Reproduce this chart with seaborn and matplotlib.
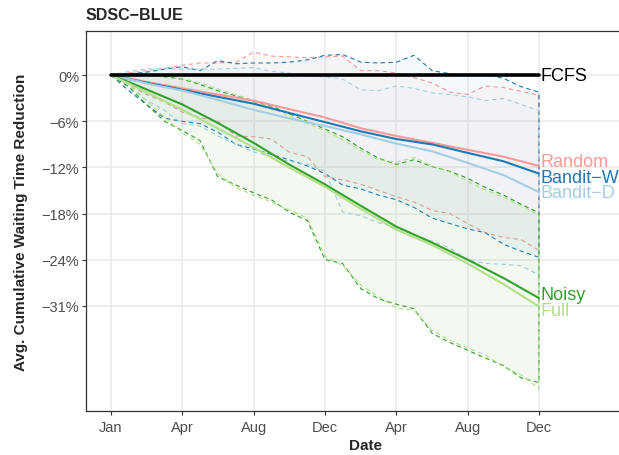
import matplotlib

matplotlib.use("Agg")
import matplotlib.pyplot as plt
import numpy as np
import pandas as pd
import seaborn as sns

# x in days since the first Jan, ticks every 117 days
main_days = [0, 30, 60, 117, 175, 234, 292, 351, 410, 468, 527, 585, 644, 702]
random_avg = [0, -0.4, -0.9, -1.7, -2.5, -3.3, -4.4, -5.5, -6.9, -7.9, -8.8, -9.7, -10.6, -11.8]
bandit_w_avg = [0, -0.5, -1.0, -1.9, -2.8, -3.7, -4.9, -6.1, -7.3, -8.3, -9.0, -10.1, -11.2, -12.8]
bandit_d_avg = [0, -0.5, -1.1, -2.0, -3.2, -4.5, -5.6, -6.6, -7.7, -8.9, -9.9, -11.4, -13.0, -15.2]
noisy_avg = [0, -0.9, -1.9, -3.8, -6.2, -8.8, -11.6, -14.2, -17.0, -19.7, -21.8, -24.0, -26.4, -29.0]
full_avg = [0, -1.1, -2.3, -4.5, -6.9, -9.4, -12.0, -14.5, -17.4, -20.1, -22.1, -24.5, -27.2, -30.1]

band_days = [0, 29, 58, 88, 117, 146, 175, 205, 234, 263, 292, 322, 351,
             380, 410, 439, 468, 497, 527, 556, 585, 614, 644, 673, 702]
random_hi = [0, 0.3, 0.6, 0.9, 1.3, 1.6, 1.6, 1.7, 3.0, 2.5, 2.4, 2.3, 2.4,
             2.5, 0.6, 0.6, 0.3, -0.3, -1.0, -2.2, -2.5, -1.4, -1.6, -2.1, -2.6]
random_lo = [0, -1.2, -2.5, -3.5, -4.8, -5.5, -6.0, -7.9, -8.0, -8.3, -10.0, -10.6, -13.2,
             -13.6, -14.2, -15.0, -15.8, -16.5, -17.6, -18.0, -19.3, -20.5, -21.1, -21.4, -22.8]
bandit_w_hi = [0, 0.2, 0.4, 0.8, 1.1, 0.6, 1.9, 1.5, 1.6, 1.6, 1.7, 2.0, 2.6,
               2.7, 1.7, 1.6, 1.7, 2.6, 0.6, 0.2, 0.0, 0.1, -0.4, -1.5, -2.2]
bandit_w_lo = [0, -2.0, -3.8, -5.6, -6.0, -6.3, -7.4, -9.0, -9.6, -10.3, -11.0, -11.8, -12.8,
               -14.3, -14.8, -15.6, -16.2, -17.2, -18.6, -19.3, -20.0, -20.5, -22.0, -22.9, -23.7]
bandit_d_hi = [0, 0.5, 0.8, 0.9, 0.8, 0.8, 0.8, 0.9, 1.0, 0.5, 0.3, -0.1, -0.2,
               -0.5, -1.9, -2.0, -1.4, -1.7, -2.3, -2.5, -2.8, -3.3, -3.0, -3.8, -4.6]
bandit_d_lo = [0, -1.5, -3.2, -4.6, -6.3, -6.6, -7.9, -9.0, -10.0, -10.6, -11.2, -11.6, -12.5,
               -17.8, -18.3, -19.2, -19.8, -20.8, -21.6, -22.5, -24.0, -24.5, -24.6, -24.8, -26.0]
noisy_hi = [0, 0.1, 0.1, -0.2, -0.5, -1.2, -2.0, -2.7, -3.4, -4.0, -5.0, -6.0, -7.0,
            -8.0, -9.5, -10.8, -11.6, -11.0, -11.9, -12.5, -13.4, -14.6, -15.6, -16.8, -17.9]
noisy_lo = [0, -1.5, -3.8, -6.0, -7.2, -8.5, -13.2, -14.3, -15.3, -16.2, -17.8, -18.9, -24.0,
            -24.5, -27.8, -29.1, -29.8, -30.4, -33.6, -34.8, -35.8, -36.8, -37.8, -39.4, -40.0]
full_hi = [0, 0.2, 0.2, 0.0, -0.4, -1.0, -1.8, -2.5, -3.3, -4.2, -5.3, -6.3, -7.2,
           -8.4, -9.8, -11.0, -11.3, -10.7, -11.8, -12.6, -13.8, -14.9, -15.9, -17.0, -18.2]
full_lo = [0, -1.2, -3.3, -5.5, -7.5, -9.0, -12.8, -14.6, -15.6, -16.5, -17.5, -18.6, -23.5,
           -24.8, -27.3, -28.8, -30.3, -30.6, -33.2, -34.5, -35.5, -36.4, -38.0, -39.0, -40.8]

fcfs_days = [0, 702]
fcfs_avg = [0, 0]

methods = ["Random", "Bandit\u2212W", "Bandit\u2212D", "Noisy", "Full"]
colors = ["#FB9A99", "#1F78B4", "#A6CEE3", "#33A02C", "#B2DF8A"]
avgs = [random_avg, bandit_w_avg, bandit_d_avg, noisy_avg, full_avg]
his = [random_hi, bandit_w_hi, bandit_d_hi, noisy_hi, full_hi]
los = [random_lo, bandit_w_lo, bandit_d_lo, noisy_lo, full_lo]

tick_days = [0, 117, 234, 351, 468, 585, 702]
tick_months = ["Jan", "Apr", "Aug", "Dec", "Apr", "Aug", "Dec"]
ytick_vals = [0, -6, -12, -18, -24, -30]
ytick_labels = ["0%", "\u22126%", "\u221212%", "\u221218%", "\u221224%", "\u221231%"]

sns.set_style("white")
plt.rcParams["font.family"] = ["Liberation Sans", "DejaVu Sans"]

df = pd.concat(
    [pd.DataFrame({"day": main_days, "value": v, "method": m}) for m, v in zip(methods, avgs)]
)

fig = plt.figure(figsize=(6.19, 4.56), dpi=100)
ax = fig.add_axes([86 / 619, 44 / 456, 559 / 619, 380.3 / 456])

# ribbons with dashed outline
for color, hi, lo in zip(colors, his, los):
    rgb = matplotlib.colors.to_rgb(color)
    ax.fill_between(
        band_days, lo, hi,
        facecolor=(*rgb, 0.045), edgecolor=color,
        linestyle=(0, (4, 3)), linewidth=0.8, zorder=2,
    )

sns.lineplot(
    data=df, x="day", y="value", hue="method", palette=dict(zip(methods, colors)),
    estimator=None, linewidth=1.5, legend=False, ax=ax, zorder=3,
)
sns.lineplot(x=fcfs_days, y=fcfs_avg, color="black", linewidth=2.6, ax=ax, zorder=4)

# end labels, pushed apart when they collide
ends = [v[-1] for v in avgs]
order = np.argsort(ends)[::-1]
pos = {}
gap = 2.05
groups = []
for i in order:
    if groups and pos[groups[-1][-1]] - ends[i] < gap:
        groups[-1].append(i)
    else:
        groups.append([i])
    pos[i] = min(ends[i], pos[groups[-1][-2]] - gap) if len(groups[-1]) > 1 else ends[i]
for g in groups:
    shift = np.mean([ends[i] for i in g]) - np.mean([pos[i] for i in g])
    for i in g:
        pos[i] += shift

ax.text(fcfs_days[-1] + 2, fcfs_avg[-1], "FCFS", color="black", fontsize=13,
        va="center", ha="left", zorder=5)
for i, (m, c) in enumerate(zip(methods, colors)):
    ax.text(main_days[-1] + 2, pos[i], m, color=c, fontsize=13, va="center",
            ha="left", zorder=5)

ax.set_xlim(-41, 876)
ax.set_ylim(-43.7, 5.8)
ax.set_xticks(tick_days)
ax.set_xticklabels(tick_months)
ax.set_yticks(ytick_vals)
ax.set_yticklabels(ytick_labels)
ax.grid(True, color="#EBEBEB", linewidth=1.1, zorder=0)
ax.set_axisbelow(True)
ax.tick_params(axis="both", labelsize=10.5, labelcolor="#4D4D4D", color="#333333",
               length=3, width=0.8, bottom=True, left=True)
ax.tick_params(axis="x", pad=3.5)
ax.tick_params(axis="y", pad=2)
for side in ["left", "top", "bottom"]:
    ax.spines[side].set_color("#333333")
    ax.spines[side].set_linewidth(0.9)
ax.spines["right"].set_visible(False)

ax.set_xlabel("Date", fontsize=11, fontweight="bold", labelpad=3)
ax.set_ylabel("Avg. Cumulative Waiting Time Reduction", fontsize=11,
              fontweight="bold", labelpad=10)
fig.text(86 / 619, 1 - 15 / 456, "SDSC\u2212BLUE", fontsize=11.5, fontweight="bold",
         va="center", ha="left")

fig.savefig("out.png", dpi=100)
